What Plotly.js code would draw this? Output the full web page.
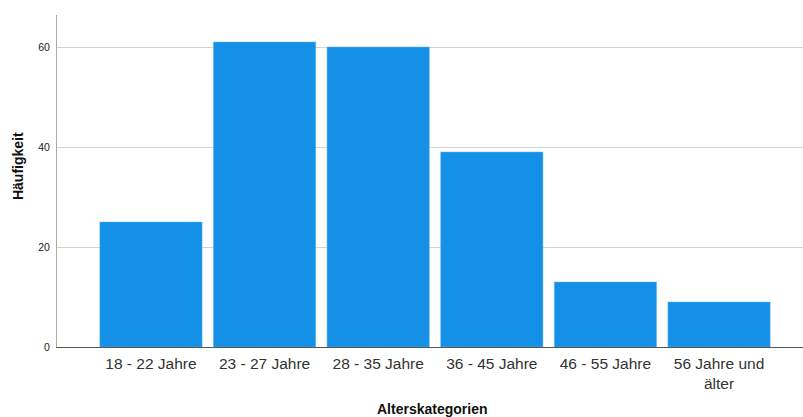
<!DOCTYPE html>
<html><head><meta charset="utf-8">
<script src="https://cdn.plot.ly/plotly-3.0.1.min.js"></script>
<style>html,body{margin:0;padding:0;background:#fff}</style>
</head><body>
<div id="chart" style="width:803px;height:417px"></div>
<script>
const categories = ["18 - 22 Jahre", "23 - 27 Jahre", "28 - 35 Jahre", "36 - 45 Jahre", "46 - 55 Jahre", "56 Jahre und<br>älter"];
const counts = [25, 61, 60, 39, 13, 9];
const yTicks = [0, 20, 40, 60];

Plotly.newPlot('chart', [{
  type: 'bar',
  x: categories,
  y: counts,
  width: 0.9,
  marker: {color: '#1490e6', line: {color: '#5fb4f0', width: 0.5}},
  hoverinfo: 'none'
}], {
  width: 803, height: 417,
  margin: {l: 57, r: 0, t: 15, b: 70},
  paper_bgcolor: '#fff', plot_bgcolor: '#fff',
  font: {family: 'Liberation Sans, Arial, sans-serif', color: '#222'},
  showlegend: false,
  xaxis: {
    type: 'category',
    range: [-0.827, 5.739],
    ticks: '', showgrid: false, zeroline: false,
    showline: true, linecolor: '#555', linewidth: 1,
    tickfont: {size: 15.5, color: '#333'},
    ticklabelstandoff: 2,
    automargin: false
  },
  yaxis: {
    range: [0, 66.4],
    tickvals: yTicks,
    ticks: '', showgrid: true, gridcolor: '#d3d3d3', gridwidth: 1,
    zeroline: false,
    showline: true, linecolor: '#aaa', linewidth: 1,
    tickfont: {size: 10.5, color: '#222'},
    ticklabelstandoff: 4,
    automargin: false
  },
  annotations: [
    {text: '<b>Alterskategorien</b>', xref: 'paper', yref: 'paper', x: 0.503, y: 0, yshift: -62,
     xanchor: 'center', yanchor: 'middle', showarrow: false, font: {size: 14, color: '#111'}},
    {text: '<b>Häufigkeit</b>', xref: 'paper', yref: 'paper', x: 0, xshift: -39, y: 0.545,
     xanchor: 'center', yanchor: 'middle', textangle: -90, showarrow: false, font: {size: 14, color: '#111'}}
  ]
}, {staticPlot: true});
</script>
</body></html>
